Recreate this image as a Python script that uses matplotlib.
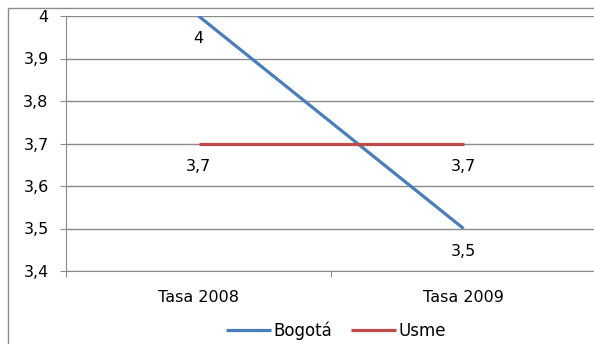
import matplotlib
matplotlib.use('Agg')
import matplotlib.pyplot as plt
from matplotlib.patches import Rectangle
from matplotlib.ticker import FuncFormatter

categories = ['Tasa 2008', 'Tasa 2009']
bogota = [4.0, 3.5]
usme = [3.7, 3.7]
series_names = ['Bogotá', 'Usme']
yticks = [3.4, 3.5, 3.6, 3.7, 3.8, 3.9, 4.0]

blue = '#4A7EBB'
red = '#BE4B48'
grid_c = '#8a8a8a'

plt.rcParams['font.family'] = ['DejaVu Sans']
fs = 11.5

fig = plt.figure(figsize=(5.94, 3.44), dpi=100)
# outer chart frame (right and bottom edges fall outside the image)
fig.patches.append(Rectangle((7.5 / 594, -0.1), 1.2, 1 - 7.5 / 344 + 0.1,
                             transform=fig.transFigure, fill=False,
                             edgecolor='#8c8c8c', linewidth=1.0))
ax = fig.add_axes([66 / 594, 1 - 271 / 344, 530 / 594, 255 / 344])

x = range(len(categories))
ax.plot(x, bogota, color=blue, linewidth=2.3, label=series_names[0],
        solid_capstyle='butt', zorder=3)
ax.plot(x, usme, color=red, linewidth=2.3, label=series_names[1],
        solid_capstyle='butt', zorder=3)

fmt = lambda v: ('%g' % v).replace('.', ',')
for vals in (bogota, usme):
    for i, v in enumerate(vals):
        ax.annotate(fmt(v), (i, v), xytext=(0, -11), textcoords='offset points',
                    ha='center', va='top', fontsize=fs)

ax.set_xlim(-0.5, 1.5)
ax.set_ylim(3.4, 4.0)
ax.set_yticks(yticks)
ax.yaxis.set_major_formatter(FuncFormatter(lambda v, p: fmt(round(v, 1))))
ax.set_xticks([-0.5, 0.5, 1.5])
ax.set_xticklabels([])
ax.set_xticks(list(x), minor=True)
ax.set_xticklabels(categories, minor=True)
ax.tick_params(axis='x', which='minor', length=0, pad=14, labelsize=fs)
ax.tick_params(axis='x', which='major', length=4.5, color=grid_c, direction='out')
ax.tick_params(axis='y', length=4.5, color=grid_c, labelsize=fs, pad=8)
ax.grid(axis='y', color=grid_c, linewidth=1.0)
for s in ['top', 'right']:
    ax.spines[s].set_visible(False)
for s in ['left', 'bottom']:
    ax.spines[s].set_color(grid_c)
ax.set_axisbelow(True)

fig.legend(loc='center', bbox_to_anchor=(336 / 594, 1 - 331 / 344), ncol=2,
           frameon=False, fontsize=12, handlelength=2.7, handletextpad=0.15,
           columnspacing=1.1, borderaxespad=0, borderpad=0)

fig.savefig('out.png', dpi=100)
